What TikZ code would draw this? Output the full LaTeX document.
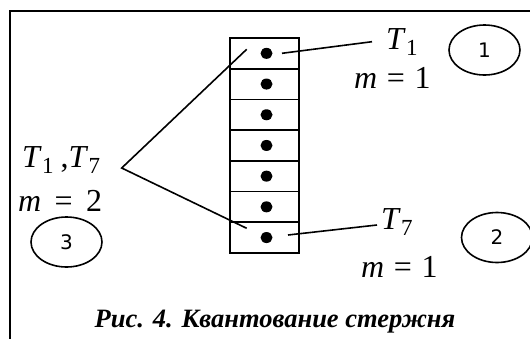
\documentclass[tikz,border=0pt]{standalone}
\usepackage{fontspec}
\setmainfont{Liberation Serif}
\newfontfamily\numfont{DejaVu Sans}
\usetikzlibrary{shapes.geometric}
\newcommand{\Tsb}[1]{\textit{T}\kern0.3pt\raisebox{-0.2em}{\fontsize{23}{23}\selectfont #1}}
\tikzset{
  frame/.style={line width=2.4pt},
  cellbox/.style={draw, line width=1.7pt, minimum width=69pt, minimum height=30.7pt, inner sep=0pt, outer sep=0pt},
  dotmark/.style={ellipse, fill=black, minimum width=12pt, minimum height=11pt, inner sep=0pt},
  conn/.style={line width=1.6pt},
  lbl/.style={font=\fontsize{32}{32}\selectfont, inner sep=0pt, anchor=base west},
  numoval/.style={ellipse, draw, line width=1.6pt, minimum width=71pt, minimum height=50pt, inner sep=0pt, font=\numfont\fontsize{20}{20}\selectfont},
  caption/.style={font=\bfseries\itshape\fontsize{26.5}{26.5}\selectfont, inner sep=0pt, anchor=base}
}
\begin{document}
\begin{tikzpicture}[x=1pt, y=-1pt]
\useasboundingbox (0,0) rectangle (530,338);
\clip (0,0) rectangle (530,338);
\fill[white] (0,0) rectangle (530,338);
\draw[frame] (10,11) rectangle (560,360);
% rod
\foreach \i in {1,...,7} {
  \node[cellbox] (cell\i) at (264.5, {38+30.7*(\i-1)+15.35}) {};
  \node[dotmark] (d\i) at (266.5, {38+30.7*(\i-1)+15.35}) {};
}
% labels
\node[lbl] (t1) at (386,49) {\Tsb{1}};
\node[lbl] (m1a) at (354,88) {\textit{m}\hspace{0.3em}=\hspace{0.3em}1};
\node[lbl] (t17) at (22,167) {\Tsb{1}\hspace{0.22em},\Tsb{7}};
\node[lbl] (m2) at (18,211) {\textit{m}\hspace{0.42em}=\hspace{0.42em}2};
\node[lbl] (t7) at (381,229) {\Tsb{7}};
\node[lbl] (m1b) at (361,277) {\textit{m}\hspace{0.3em}=\hspace{0.3em}1};
% ovals
\node[numoval] (c1) at (484.5,50) {1};
\node[numoval] (c2) at (497,237.5) {2};
\node[numoval] (c3) at (66.5,242) {3};
% connectors
\coordinate (a1) at (282,53.3);
\coordinate (b1) at (372,41.7);
\coordinate (a7) at (288,235);
\coordinate (b7) at (377,225);
\coordinate (apex) at (121.7,168);
\coordinate (vtop) at (246.7,49.3);
\coordinate (vbot) at (246.7,228.3);
\draw[conn] (a1) -- (b1);
\draw[conn] (a7) -- (b7);
\draw[conn] (vtop) -- (apex) -- (vbot);
% caption
\node[caption] (cap) at (275,327) {Рис. 4. Квантование стержня};
\end{tikzpicture}
\end{document}
